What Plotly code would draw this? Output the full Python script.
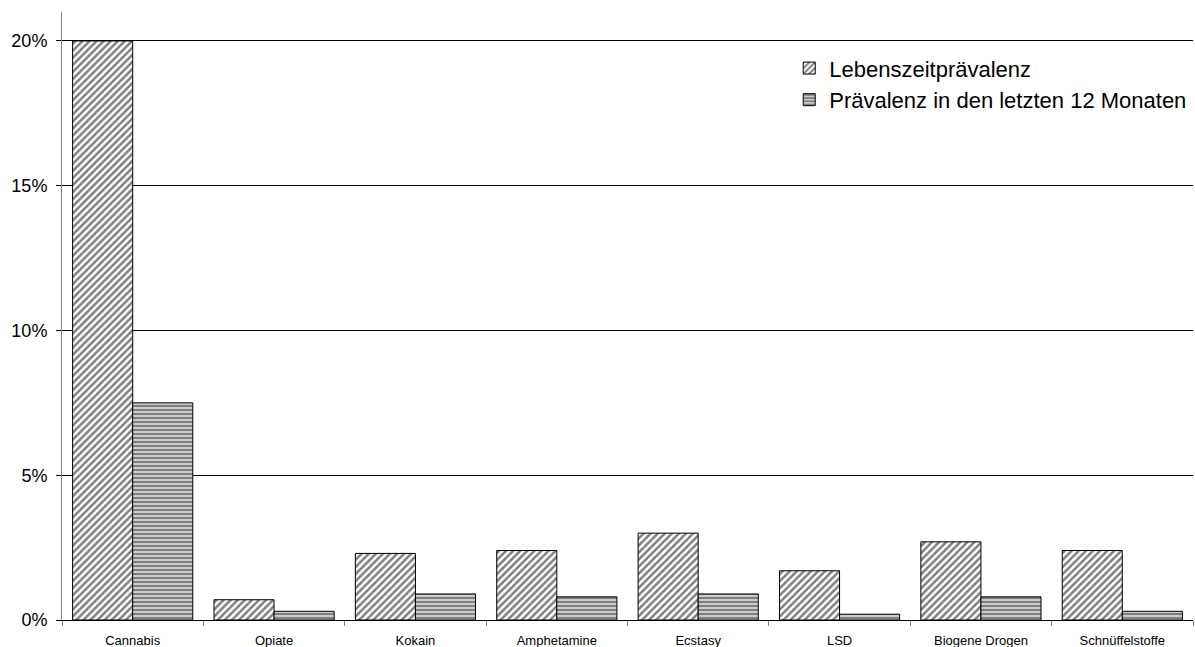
import plotly.graph_objects as go

categories = ["Cannabis", "Opiate", "Kokain", "Amphetamine", "Ecstasy", "LSD",
              "Biogene Drogen", "Schnüffelstoffe"]
lifetime = [20.0, 0.7, 2.3, 2.4, 3.0, 1.7, 2.7, 2.4]
last_12_months = [7.5, 0.3, 0.9, 0.8, 0.9, 0.2, 0.8, 0.3]
y_ticks = [0, 5, 10, 15, 20]
y_tick_labels = ["0%", "5%", "10%", "15%", "20%"]

font_family = "Liberation Sans, Arial, sans-serif"

fig = go.Figure()
fig.add_trace(go.Bar(
    name="Lebenszeitprävalenz",
    x=categories, y=lifetime,
    marker=dict(color="white", line=dict(color="black", width=1),
                pattern=dict(shape="/", fgcolor="black", bgcolor="white",
                             size=5, solidity=0.5, fillmode="overlay")),
))
fig.add_trace(go.Bar(
    name="Prävalenz in den letzten 12 Monaten",
    x=categories, y=last_12_months,
    marker=dict(color="white", line=dict(color="black", width=1),
                pattern=dict(shape="-", fgcolor="black", bgcolor="white",
                             size=4, solidity=0.7, fillmode="overlay")),
))

fig.update_layout(
    width=1195, height=647,
    margin=dict(l=62, r=2, t=12, b=27, autoexpand=False),
    paper_bgcolor="white", plot_bgcolor="white",
    barmode="group", bargap=0.15, bargroupgap=0,
    font=dict(family=font_family, color="black"),
    showlegend=True,
    legend=dict(x=0.643, y=0.942, xanchor="left", yanchor="top",
                font=dict(size=22, family=font_family),
                bgcolor="rgba(0,0,0,0)"),
    xaxis=dict(
        type="category",
        tickson="boundaries", ticks="outside", ticklen=5, tickcolor="#808080",
        showline=True, linecolor="black", linewidth=1,
        tickfont=dict(size=13, family=font_family),
        ticklabelstandoff=8,
        showgrid=False,
    ),
    yaxis=dict(
        range=[0, 21], tickvals=y_ticks, ticktext=y_tick_labels,
        ticks="outside", ticklen=5, tickcolor="black",
        showline=True, linecolor="#808080", linewidth=1,
        showgrid=True, gridcolor="black", gridwidth=1,
        zeroline=False,
        tickfont=dict(size=18, family=font_family),
        ticklabelstandoff=5,
    ),
)

fig.write_html("out.html")
